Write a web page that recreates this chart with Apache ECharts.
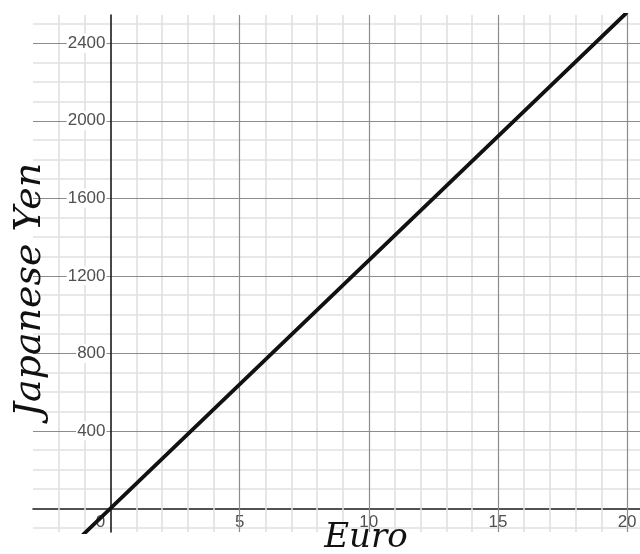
<!DOCTYPE html>
<html><head><meta charset="utf-8">
<script src="https://cdn.jsdelivr.net/npm/echarts@6/dist/echarts.min.js"></script>
<style>html,body{margin:0;padding:0;background:#fff}#c{width:640px;height:554px}</style>
</head><body><div id="c"></div>
<script>
// series values (Euro -> Japanese Yen)
const euro = [-2, 0, 5, 10, 15, 20];
const yen = [-256, 0, 640, 1280, 1920, 2560];
// tick labels
const xTickLabels = [0, 5, 10, 15, 20];
const yTickLabels = [400, 800, 1200, 1600, 2000, 2400];
// grid lines
const xMajorGrid = [5, 10, 15, 20];
const xMinorGrid = [-2, -1, 1, 2, 3, 4, 6, 7, 8, 9, 11, 12, 13, 14, 16, 17, 18, 19];
const yMajorGrid = [400, 800, 1200, 1600, 2000, 2400];
const yMinorGrid = [-100, 100, 200, 300, 500, 600, 700, 900, 1000, 1100, 1300, 1400, 1500, 1700, 1800, 1900, 2100, 2200, 2300, 2500];

const X_MIN = -3, X_MAX = 20.5, Y_MIN = -122, Y_MAX = 2546;
const G = {left: 33, top: 15, right: 0, bottom: 22};
const W = 640, H = 554;
const gw = W - G.left - G.right, gh = H - G.top - G.bottom;
// move the axes onto the zero lines
const yAxisOffset = -((0 - X_MIN) / (X_MAX - X_MIN)) * gw;
const xAxisOffset = -((0 - Y_MIN) / (Y_MAX - Y_MIN)) * gh;

const chart = echarts.init(document.getElementById('c'), null, {renderer: 'canvas'});
const labelColor = '#505050';
const FONT = 'Liberation Sans, Arial, sans-serif';
const minorStyle = {color: '#e0e0e0', width: 1.6, type: 'solid'};
const majorStyle = {color: '#8c8c8c', width: 1.2, type: 'solid'};

function gridMarkLine(xs, ys, style) {
  return {
    silent: true, symbol: 'none', animation: false,
    label: {show: false},
    lineStyle: style,
    emphasis: {disabled: true},
    data: xs.map(v => ({xAxis: v})).concat(ys.map(v => ({yAxis: v})))
  };
}

chart.setOption({
  animation: false,
  backgroundColor: '#fff',
  grid: {left: G.left, top: G.top, right: G.right, bottom: G.bottom, containLabel: false, outerBoundsMode: 'none'},
  xAxis: {
    type: 'value', min: X_MIN, max: X_MAX, interval: 1,
    position: 'bottom', offset: xAxisOffset,
    axisLine: {onZero: false, lineStyle: {color: '#1a1a1a', width: 1.6}},
    axisTick: {show: false},
    splitLine: {show: false},
    axisLabel: {
      margin: 5, fontSize: 17, color: labelColor, fontFamily: FONT,
      showMinLabel: true, showMaxLabel: true, hideOverlap: false,
      formatter: function (v) {
        if (xTickLabels.indexOf(v) < 0) return '';
        if (v === 0) return '{z|0}';
        return String(v);
      },
      rich: {z: {fontSize: 17, color: labelColor, padding: [0, 20, 0, 0], fontFamily: FONT}}
    }
  },
  yAxis: {
    type: 'value', min: Y_MIN, max: Y_MAX, z: 5,
    position: 'left', offset: yAxisOffset,
    axisLine: {onZero: false, lineStyle: {color: '#1a1a1a', width: 1.6}},
    axisTick: {show: false},
    splitLine: {show: false},
    axisLabel: {
      customValues: yTickLabels,
      formatter: function (v) { return String(v); },
      margin: 4, fontSize: 17, color: labelColor, fontFamily: FONT,
      backgroundColor: '#fff', padding: [1, 1]
    }
  },
  graphic: [
    {type: 'text', x: 366, y: 538, z: 10,
     style: {text: 'Euro', font: 'italic 34px "DejaVu Serif"', fill: '#111', textAlign: 'center', textVerticalAlign: 'middle'}},
    {type: 'text', x: 30, y: 290, rotation: Math.PI / 2, z: 10,
     style: {text: 'Japanese Yen', font: 'italic 38px "DejaVu Serif"', fill: '#111', textAlign: 'center', textVerticalAlign: 'middle'}}
  ],
  series: [
    {type: 'line', z: 1, data: [], markLine: gridMarkLine(xMinorGrid, yMinorGrid, minorStyle)},
    {type: 'line', z: 1, data: [], markLine: gridMarkLine(xMajorGrid, yMajorGrid, majorStyle)},
    {
      type: 'line', z: 6, showSymbol: false, symbol: 'none',
      lineStyle: {color: '#111', width: 3.8},
      data: euro.map((e, i) => [e, yen[i]])
    }
  ]
});
</script>
</body></html>
